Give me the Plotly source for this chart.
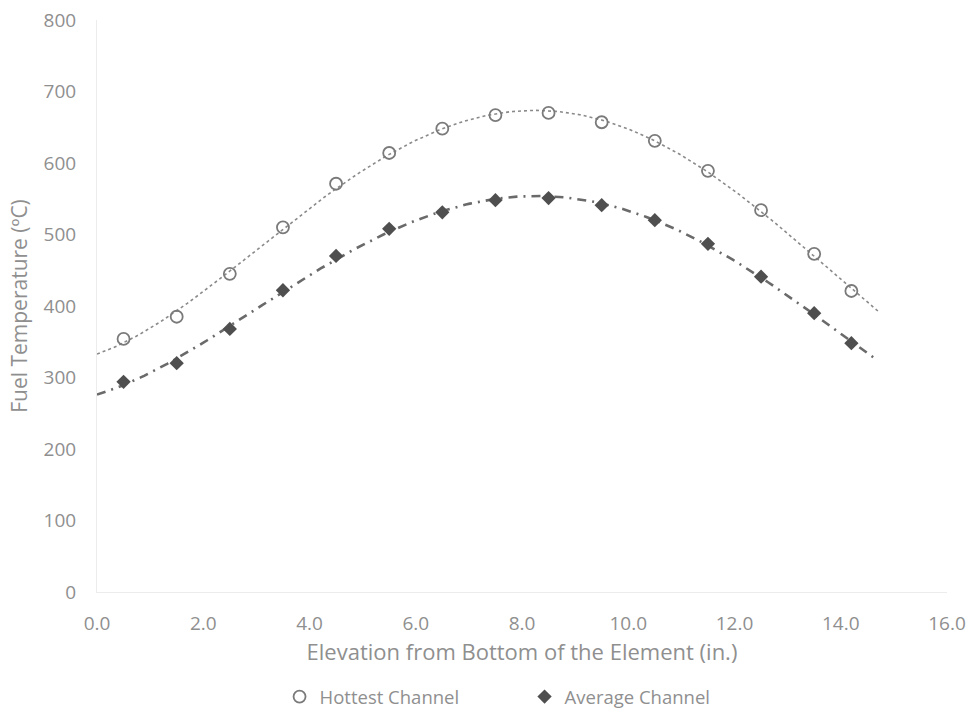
import numpy as np
import plotly.graph_objects as go

elevation = [0.5, 1.5, 2.5, 3.5, 4.5, 5.5, 6.5, 7.5, 8.5, 9.5, 10.5, 11.5, 12.5, 13.5, 14.2]
hottest = [354, 385, 445, 510, 571, 614, 648, 667, 670, 657, 631, 589, 534, 473, 421]
average = [294, 320, 368, 422, 470, 508, 531, 548, 551, 541, 520, 487, 441, 390, 348]
x_ticks = [0, 2, 4, 6, 8, 10, 12, 14, 16]
x_tick_labels = ["0.0", "2.0", "4.0", "6.0", "8.0", "10.0", "12.0", "14.0", "16.0"]
y_ticks = [0, 100, 200, 300, 400, 500, 600, 700, 800]
trend_range = [0.0, 14.7]

# Excel-style polynomial trendlines fitted to the data
xt = np.linspace(trend_range[0], trend_range[1], 200)
ph = np.polyfit(elevation, hottest, 4)
pa = np.polyfit(elevation, average, 4)

font_family = "Open Sans, Segoe UI, sans-serif"
txt = "#8f8f8f"

fig = go.Figure()
fig.add_trace(go.Scatter(x=xt, y=np.polyval(ph, xt), mode="lines",
                         line=dict(color="#8a8a8a", width=1.6, dash="dot"),
                         showlegend=False, hoverinfo="skip"))
fig.add_trace(go.Scatter(x=xt, y=np.polyval(pa, xt), mode="lines",
                         line=dict(color="#6a6a6a", width=2.6, dash="9px,6px,2px,6px"),
                         showlegend=False, hoverinfo="skip"))
fig.add_trace(go.Scatter(x=elevation, y=hottest, mode="markers", name="Hottest Channel",
                         marker=dict(symbol="circle-open", size=12, color="#7a7a7a",
                                     line=dict(width=1.8, color="#7a7a7a"))))
fig.add_trace(go.Scatter(x=elevation, y=average, mode="markers", name="Average Channel",
                         marker=dict(symbol="diamond", size=11, color="#4f4f4f")))

fig.update_layout(
    width=973, height=710,
    margin=dict(l=97, r=26, t=20, b=118, autoexpand=False),
    paper_bgcolor="white", plot_bgcolor="white",
    font=dict(family=font_family, color=txt, size=18),
    legend=dict(orientation="h", x=0.503, xanchor="center", y=-0.1836, yanchor="middle",
                font=dict(size=18.5, color=txt), itemwidth=30, entrywidth=200),
    xaxis=dict(range=[0, 16], tickvals=x_ticks, ticktext=x_tick_labels,
               showgrid=False, zeroline=False, showline=True, linecolor="#ececec",
               linewidth=1, ticks="", tickfont=dict(size=19, color=txt),
               ticklabelstandoff=14,
               title=dict(text="Elevation from Bottom of the Element (in.)",
                          font=dict(size=22, color=txt), standoff=6)),
    yaxis=dict(range=[0, 800], tickvals=y_ticks, showgrid=False, zeroline=False,
               showline=True, linecolor="#ececec", linewidth=1, ticks="",
               tickfont=dict(size=19, color=txt), ticklabelstandoff=16,
               title=dict(text="Fuel Temperature (ºC)", font=dict(size=21, color=txt),
                          standoff=10)),
)

fig.write_html("out.html")
